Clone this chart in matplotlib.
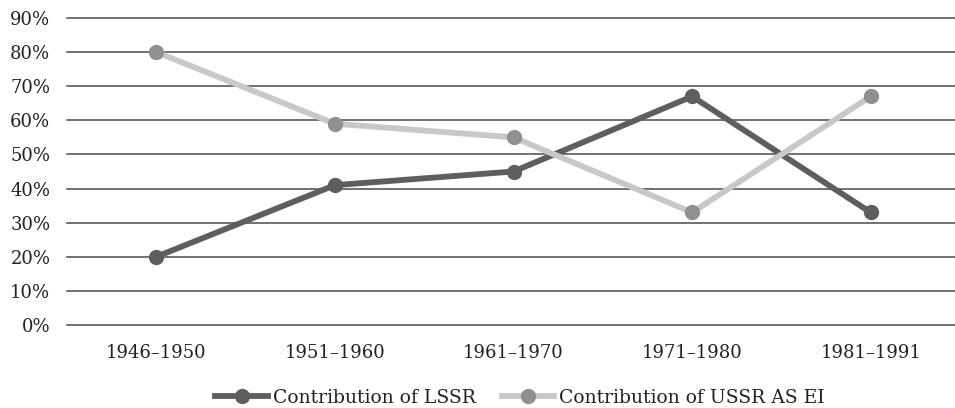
import matplotlib.pyplot as plt
import numpy as np

# periods and shares (percent)
periods = ['1946–1950', '1951–1960', '1961–1970', '1971–1980', '1981–1991']
lssr = [20, 41, 45, 67, 33]
ussr = [80, 59, 55, 33, 67]
yticks = [0, 10, 20, 30, 40, 50, 60, 70, 80, 90]

plt.rcParams['font.family'] = ['DejaVu Serif']

fig = plt.figure(figsize=(9.55, 4.08), dpi=100)
ax = fig.add_axes([67 / 955, 1 - 325 / 408, (960 - 67) / 955, (325 - 18) / 408])

x = np.arange(len(periods))
ax.plot(x, lssr, color='#5e5e5e', lw=4.2, marker='o', ms=10,
        mfc='#5e5e5e', mec='#5e5e5e', label='Contribution of LSSR', zorder=3)
ax.plot(x, ussr, color='#c8c8c8', lw=4.2, marker='o', ms=10,
        mfc='#909090', mec='#909090', label='Contribution of USSR AS EI', zorder=3)

for v in yticks:
    ax.axhline(v, color='#4a4a4a', lw=1.1, zorder=1, clip_on=False)

ax.set_xlim(-0.5, 4.5)
ax.set_ylim(0, 90)
ax.set_xticks(x)
ax.set_xticklabels(periods)
ax.set_yticks(yticks)
ax.set_yticklabels([f'{v}%' for v in yticks])
ax.tick_params(length=0, labelsize=13, labelcolor='#222222')
ax.tick_params(axis='y', pad=12)
ax.tick_params(axis='x', pad=14)
for s in ax.spines.values():
    s.set_visible(False)

fig.legend(loc='center', bbox_to_anchor=(520 / 955, 1 - 398 / 408), ncol=2,
           frameon=False, fontsize=13.5, handlelength=2.8, columnspacing=1.4,
           handletextpad=0.25, labelcolor='#222222')

fig.savefig('out.png', dpi=100)
